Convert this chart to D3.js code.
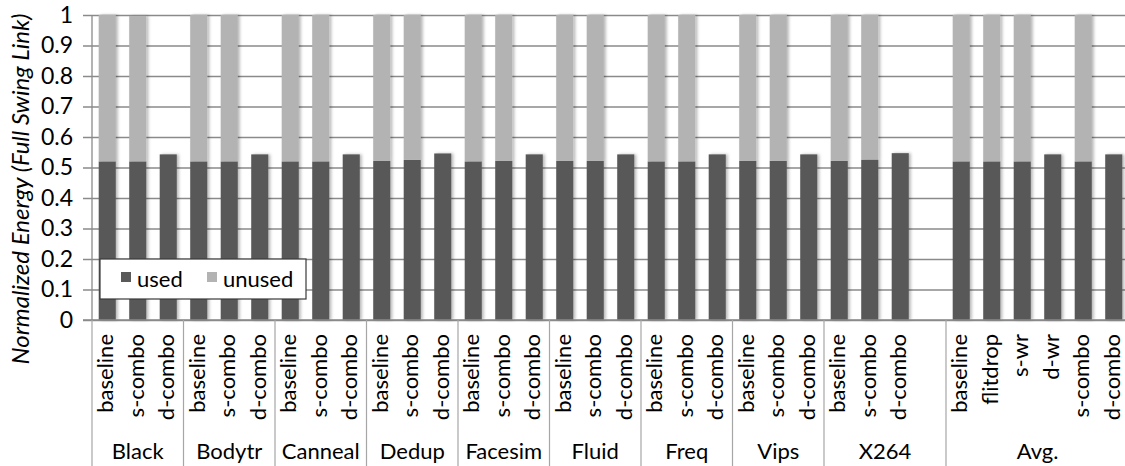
<!DOCTYPE html>
<html>
<head>
<meta charset="utf-8">
<script src="https://cdn.jsdelivr.net/npm/d3@7"></script>
<style>
  html, body { margin: 0; padding: 0; background: #fff; }
  svg { display: block; font-family: Lato, "Open Sans", sans-serif; }
</style>
</head>
<body>
<svg id="chart" width="1125" height="466"></svg>
<script>
// Benchmarks and the link configurations run for each
const groups = ["Black", "Bodytr", "Canneal", "Dedup", "Facesim", "Fluid", "Freq", "Vips", "X264", "Avg."];
const benchConfigs = ["baseline", "s-combo", "d-combo"];
const avgConfigs = ["baseline", "flitdrop", "s-wr", "d-wr", "s-combo", "d-combo"];

// Energy actually used by transmitted data, per group
const usedEnergy = [
  [0.520, 0.520, 0.543],
  [0.520, 0.520, 0.543],
  [0.520, 0.520, 0.543],
  [0.522, 0.525, 0.546],
  [0.520, 0.522, 0.543],
  [0.522, 0.522, 0.543],
  [0.520, 0.520, 0.543],
  [0.522, 0.522, 0.543],
  [0.522, 0.526, 0.547],
  [0.520, 0.520, 0.520, 0.543, 0.520, 0.543]
];
// Energy spent but wasted, per group
const unusedEnergy = [
  [0.480, 0.477, 0],
  [0.480, 0.480, 0],
  [0.480, 0.480, 0],
  [0.478, 0.475, 0],
  [0.480, 0.478, 0],
  [0.478, 0.478, 0],
  [0.480, 0.480, 0],
  [0.478, 0.478, 0],
  [0.478, 0.474, 0],
  [0.480, 0.480, 0.480, 0, 0.480, 0]
];
// one empty slot separates the benchmarks from the average
const emptySlotsAfter = { "X264": 1 };

const yTicks = [0, 0.1, 0.2, 0.3, 0.4, 0.5, 0.6, 0.7, 0.8, 0.9, 1];
const seriesNames = ["used", "unused"];
const seriesColors = ["#595959", "#b3b3b3"];

// Flatten into slots along the x axis
const slots = [];
const groupSpans = [];
groups.forEach((g, gi) => {
  const cfgs = g === "Avg." ? avgConfigs : benchConfigs;
  const start = slots.length;
  cfgs.forEach((c, ci) => {
    slots.push({ id: g + "|" + c, group: g, label: c, used: usedEnergy[gi][ci], unused: unusedEnergy[gi][ci] });
  });
  for (let k = 0; k < (emptySlotsAfter[g] || 0); k++) {
    slots.push({ id: g + "|empty" + k, group: g, label: "", used: null, unused: null });
  }
  groupSpans.push({ name: g, first: slots[start].id, last: slots[slots.length - 1].id });
});

const svg = d3.select("#chart");
const plotLeft = 92, plotTop = 15, plotBottom = 320;
const step = 30.5;
const plotRight = plotLeft + step * slots.length;
const labelSize = 22;

const x = d3.scaleBand()
  .domain(slots.map(s => s.id))
  .range([plotLeft, plotRight])
  .paddingInner(0.44)
  .paddingOuter(0.22);

const y = d3.scaleLinear().domain([0, 1]).range([plotBottom, plotTop]);

// drop shadow for the bars
const defs = svg.append("defs");
const f = defs.append("filter").attr("id", "barShadow")
  .attr("x", "-30%").attr("y", "-5%").attr("width", "160%").attr("height", "110%");
f.append("feDropShadow").attr("dx", 2).attr("dy", 0).attr("stdDeviation", 1.4)
  .attr("flood-color", "#000").attr("flood-opacity", 0.28);

// horizontal gridlines + outward ticks
const yAxis = d3.axisLeft(y).tickValues(yTicks).tickFormat(d3.format("~g"))
  .tickSize(-(plotRight - plotLeft)).tickSizeOuter(0).tickPadding(19);
const yg = svg.append("g").attr("transform", `translate(${plotLeft},0)`).call(yAxis);
yg.select(".domain").remove();
yg.selectAll(".tick line").attr("x1", -9).attr("stroke", "#8a8a8a").attr("stroke-width", 1.3);
yg.selectAll(".tick text").attr("font-size", 23).attr("fill", "#000")
  .attr("font-family", "Lato, sans-serif");

// stacked bars
const stack = d3.stack().keys(seriesNames)
  .value((d, k) => d[k] || 0);
const stacked = stack(slots.filter(s => s.used !== null));

const barLayer = svg.append("g").attr("filter", "url(#barShadow)");
stacked.forEach((layer, li) => {
  barLayer.append("g").selectAll("rect")
    .data(layer.filter(d => d[1] - d[0] > 0))
    .join("rect")
    .attr("x", d => x(d.data.id))
    .attr("width", x.bandwidth())
    .attr("y", d => y(d[1]))
    .attr("height", d => y(d[0]) - y(d[1]))
    .attr("fill", seriesColors[li]);
});

// category axis: baseline and group dividers
svg.append("line").attr("x1", plotLeft - 9).attr("x2", plotRight).attr("y1", plotBottom).attr("y2", plotBottom)
  .attr("stroke", "#8a8a8a").attr("stroke-width", 1.3);
svg.append("line").attr("x1", plotLeft).attr("x2", plotLeft).attr("y1", plotTop).attr("y2", plotBottom)
  .attr("stroke", "#8a8a8a").attr("stroke-width", 1.3);

const boundaries = [plotLeft];
groupSpans.forEach(g => {
  boundaries.push(x(g.last) - x.step() * x.paddingInner() / 2 + x.step());
});
svg.append("g").selectAll("line").data(boundaries).join("line")
  .attr("x1", d => d).attr("x2", d => d)
  .attr("y1", plotBottom).attr("y2", 466)
  .attr("stroke", "#a6a6a6").attr("stroke-width", 1.2);

// configuration labels, rotated
svg.append("g").selectAll("text").data(slots.filter(s => s.label))
  .join("text")
  .attr("transform", d => `translate(${x(d.id) + x.bandwidth() / 2 + 6},${plotBottom + 14}) rotate(-90)`)
  .attr("text-anchor", "end")
  .attr("font-size", labelSize)
  .attr("fill", "#000")
  .text(d => d.label);

// group names
svg.append("g").selectAll("text").data(groupSpans)
  .join("text")
  .attr("x", (d, i) => (boundaries[i] + boundaries[i + 1]) / 2)
  .attr("y", 459)
  .attr("text-anchor", "middle")
  .attr("font-size", labelSize)
  .attr("fill", "#000")
  .text(d => d.name);

// y-axis title
svg.append("text")
  .attr("transform", `translate(29,${(plotTop + 363) / 2}) rotate(-90)`)
  .attr("text-anchor", "middle")
  .attr("font-size", 24)
  .attr("font-style", "italic")
  .attr("fill", "#000")
  .text("Normalized Energy (Full Swing Link)");

// legend
const lg = svg.append("g").attr("transform", "translate(100,259)");
lg.append("rect").attr("width", 206).attr("height", 40)
  .attr("fill", "#fff").attr("stroke", "#3a3a3a").attr("stroke-width", 1.2);
const items = lg.selectAll("g.item").data(seriesNames).join("g").attr("class", "item")
  .attr("transform", (d, i) => `translate(${[21, 107][i]},0)`);
items.append("rect").attr("y", 13).attr("width", 10).attr("height", 10)
  .attr("fill", (d, i) => seriesColors[i]);
items.append("text").attr("x", 16).attr("y", 28).attr("font-size", labelSize).attr("fill", "#000")
  .text(d => d);
</script>
</body>
</html>
